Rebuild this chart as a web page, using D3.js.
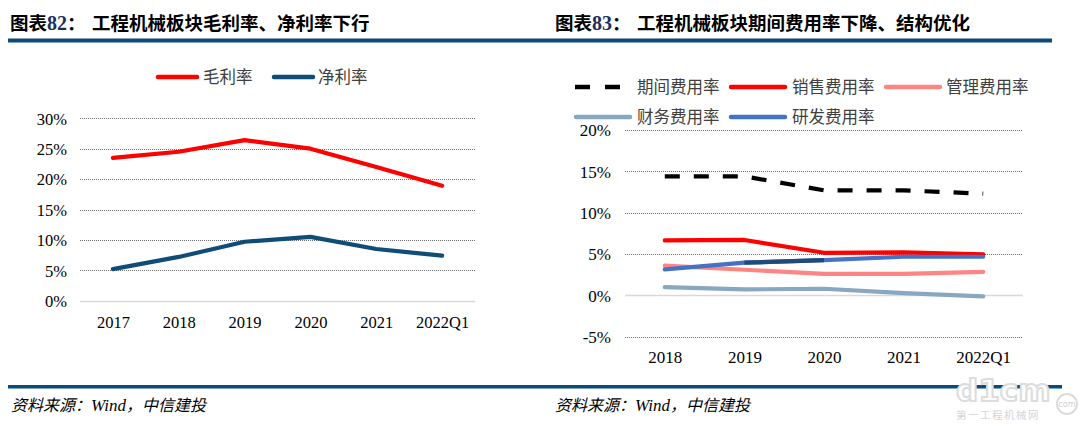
<!DOCTYPE html>
<html><head><meta charset="utf-8">
<script src="https://cdn.jsdelivr.net/npm/d3@7"></script>
<style>
body{margin:0;background:#fff;}
svg{display:block;}
.num{font-family:'Liberation Serif','DejaVu Serif',serif !important;}
</style></head><body>
<svg id="c" width="1080" height="424"></svg>
<script>
// ---------- data ----------
const leftCats = ["2017","2018","2019","2020","2021","2022Q1"];
const grossMargin = [23.5, 24.5, 26.4, 25.0, 22.0, 18.9];   // 毛利率 %
const netMargin   = [5.2, 7.2, 9.7, 10.5, 8.5, 7.4];        // 净利率 %
const leftTicks = [0,5,10,15,20,25,30];

const rightCats = ["2018","2019","2020","2021","2022Q1"];
const periodExp  = [14.4, 14.4, 12.7, 12.7, 12.3];   // 期间费用率
const salesExp   = [6.65, 6.7, 5.15, 5.2, 4.95];     // 销售费用率
const adminExp   = [3.6, 3.1, 2.6, 2.6, 2.85];       // 管理费用率
const financeExp = [1.0, 0.72, 0.8, 0.28, -0.12];    // 财务费用率
const rdExp      = [3.15, 3.95, 4.27, 4.67, 4.67];   // 研发费用率
const rdDarkSegment = ["2019","2020"];
const rightTicks = [-5,0,5,10,15,20];

const svg = d3.select("#c");
const cjk = "'Noto Sans CJK SC','Noto Sans',sans-serif";
const serif = "'Liberation Serif','DejaVu Serif',serif";

// ---------- titles & rules ----------
function title(x, num, rest, xRest){
  const t = svg.append("text").attr("x",x).attr("y",30)
    .style("font-family",cjk).attr("font-weight",700).attr("font-size",18.5).attr("fill","#000");
  t.append("tspan").text("图表");
  t.append("tspan").attr("class","num").attr("fill","#1c2f5c").attr("font-size",20).text(num);
  t.append("tspan").text("：");
  svg.append("text").attr("x",xRest).attr("y",30)
    .style("font-family",cjk).attr("font-weight",700).attr("font-size",18.5).attr("fill","#000").text(rest);
}
title(10,"82","工程机械板块毛利率、净利率下行",92);
title(555,"83","工程机械板块期间费用率下降、结构优化",637);

svg.append("rect").attr("x",8).attr("y",38.5).attr("width",1044).attr("height",4).attr("fill","#0b4a7d");
svg.append("rect").attr("x",8).attr("y",385).attr("width",1054).attr("height",3.5).attr("fill","#0b4a7d");

function source(x){
  const t = svg.append("text").attr("x",x).attr("y",411).style("font-family",cjk).attr("font-size",16)
    .attr("font-style","italic").attr("fill","#000");
  t.append("tspan").text("资料来源：");
  t.append("tspan").attr("class","num").attr("font-size",17).text("Wind");
  t.append("tspan").text("，中信建投");
}
source(11); source(555);

// ---------- helpers ----------
function grid(g, y, ticks, x0, x1){
  ticks.forEach(t=>{
    g.append("line").attr("x1",x0).attr("x2",x1).attr("y1",Math.round(y(t))+0.5).attr("y2",Math.round(y(t))+0.5)
      .attr("stroke", t===0 ? "#d9d9d9" : "#6e6e6e")
      .attr("stroke-width", t===0 ? 1.5 : 1)
      .attr("stroke-dasharray", t===0 ? null : "1,1");
  });
}
function styleAxis(sel, size){
  sel.select(".domain").remove();
  sel.attr("font-family",null).attr("font-size",null);
  sel.selectAll("text").attr("class","num").style("font-family",serif).style("font-size",size+"px")
    .attr("fill","#000").attr("dy","0.35em");
}

// ---------- left chart ----------
{
  const x = d3.scalePoint().domain(leftCats).range([80,475]).padding(0.5);
  const y = d3.scaleLinear().domain([0,30]).range([300.7,118.3]);
  const g = svg.append("g");
  grid(g, y, leftTicks, 80, 475);
  const yAxis = d3.axisLeft(y).tickValues(leftTicks).tickFormat(d=>d+"%").tickSize(0).tickPadding(0);
  styleAxis(g.append("g").attr("transform","translate(67,0)").call(yAxis), 16.5);
  const xAxis = d3.axisBottom(x).tickSize(0).tickPadding(0);
  styleAxis(g.append("g").attr("transform","translate(0,322)").call(xAxis), 16.5);

  const line = d3.line().x((d,i)=>x(leftCats[i])).y(d=>y(d));
  const series = [
    {name:"毛利率", vals:grossMargin, color:"#ff0000"},
    {name:"净利率", vals:netMargin, color:"#0f4c78"}
  ];
  series.forEach(s=>{
    g.append("path").attr("d",line(s.vals)).attr("fill","none").attr("stroke",s.color)
      .attr("stroke-width",4.2).attr("stroke-linejoin","round").attr("stroke-linecap","round");
  });
  const lg = [{x:158,tx:203},{x:274,tx:318}];
  series.forEach((s,i)=>{
    g.append("line").attr("x1",lg[i].x).attr("x2",lg[i].x+39).attr("y1",77).attr("y2",77)
      .attr("stroke",s.color).attr("stroke-width",4.5).attr("stroke-linecap","round");
    g.append("text").attr("x",lg[i].tx).attr("y",77).attr("dy","0.36em").style("font-family",cjk)
      .attr("font-size",16.5).attr("fill","#404040").text(s.name);
  });
}

// ---------- right chart ----------
{
  const x = d3.scalePoint().domain(rightCats).range([625,1023]).padding(0.5);
  const y = d3.scaleLinear().domain([-5,20]).range([336.7,130]);
  const g = svg.append("g");
  grid(g, y, rightTicks, 625, 1023);
  const yAxis = d3.axisLeft(y).tickValues(rightTicks).tickFormat(d=>d+"%").tickSize(0).tickPadding(0);
  styleAxis(g.append("g").attr("transform","translate(611,0)").call(yAxis), 17);
  const xAxis = d3.axisBottom(x).tickSize(0).tickPadding(0);
  styleAxis(g.append("g").attr("transform","translate(0,357)").call(xAxis), 17);

  const line = d3.line().x((d,i)=>x(rightCats[i])).y(d=>y(d));
  const series = [
    {name:"期间费用率", vals:periodExp, color:"#000000", dash:"15,14"},
    {name:"销售费用率", vals:salesExp, color:"#ff0000"},
    {name:"管理费用率", vals:adminExp, color:"#ff8585"},
    {name:"财务费用率", vals:financeExp, color:"#88a8c1"},
    {name:"研发费用率", vals:rdExp, color:"#4472c4"}
  ];
  series.forEach(s=>{
    g.append("path").attr("d",line(s.vals)).attr("fill","none").attr("stroke",s.color)
      .attr("stroke-width",4.2).attr("stroke-linejoin","round")
      .attr("stroke-linecap", s.dash ? "butt" : "round")
      .attr("stroke-dasharray", s.dash || null);
  });
  const i0 = rightCats.indexOf(rdDarkSegment[0]), i1 = rightCats.indexOf(rdDarkSegment[1]);
  g.append("line").attr("x1",x(rightCats[i0])).attr("x2",x(rightCats[i1]))
    .attr("y1",y(rdExp[i0])).attr("y2",y(rdExp[i1]))
    .attr("stroke","#1f4a7a").attr("stroke-width",4.2);

  const lg = [
    {x1:575,x2:620,tx:637,ty:87},
    {x1:731,x2:785,tx:792,ty:87},
    {x1:886,x2:940,tx:946,ty:87},
    {x1:576,x2:630,tx:637,ty:117},
    {x1:731,x2:785,tx:792,ty:117}
  ];
  series.forEach((s,i)=>{
    const l = lg[i];
    g.append("line").attr("x1",l.x1).attr("x2",l.x2).attr("y1",l.ty).attr("y2",l.ty)
      .attr("stroke",s.color).attr("stroke-width",4.5)
      .attr("stroke-linecap", s.dash ? "butt" : "round")
      .attr("stroke-dasharray", s.dash ? "15,15" : null);
    g.append("text").attr("x",l.tx).attr("y",l.ty).attr("dy","0.36em").style("font-family",cjk)
      .attr("font-size",16.5).attr("fill","#404040").text(s.name);
  });
}

// ---------- watermark ----------
{
  const w = svg.append("g");
  w.append("text").attr("x",956).attr("y",401).style("font-family","'DejaVu Sans',sans-serif")
    .attr("font-weight",700).attr("font-size",31)
    .attr("fill","#ffffff").attr("stroke","#dcdcdc").attr("stroke-width",2).text("d1cm");
  w.append("circle").attr("cx",1067).attr("cy",404).attr("r",10).attr("fill","#fff").attr("stroke","#dcdcdc").attr("stroke-width",2);
  w.append("text").attr("x",1067).attr("y",404).attr("dy","0.35em").attr("text-anchor","middle")
    .style("font-family","'DejaVu Sans',sans-serif").attr("font-size",8).attr("fill","#cfcfcf").text("com");
  w.append("text").attr("x",956).attr("y",419).style("font-family",cjk).attr("font-size",10.5)
    .attr("fill","#d6d6d6").attr("letter-spacing",1.5).text("第一工程机械网");
}
</script>
</body></html>
